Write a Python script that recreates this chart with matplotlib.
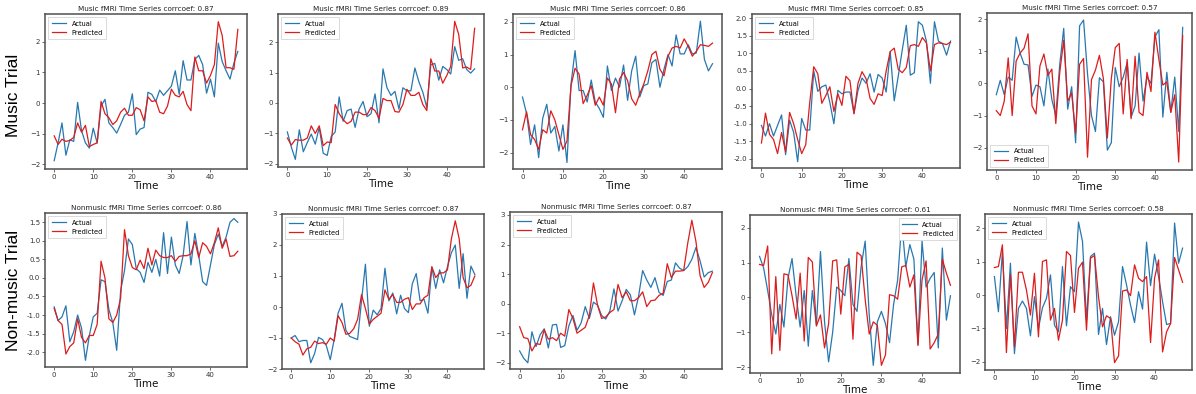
import numpy as np
import matplotlib
matplotlib.use("Agg")
import matplotlib.pyplot as plt
from matplotlib.ticker import FormatStrFormatter

# time axis (48 TRs)
time = np.arange(48)

# Music trials: actual vs predicted
music1_actual = [-1.88, -1.3, -0.65, -1.7, -1.2, -1.25, 0.02, -0.9, -1.3, -1.47, -0.82, -1.3,
                 -0.1, 0.12, -0.65, -0.8, -0.98, -0.7, -0.4, -0.3, 0.3, -1.03, -0.85, -0.8,
                 0.35, 0.28, 0.05, 0.42, 0.25, 0.4, 0.55, 1.05, 0.28, 1.38, 0.75, 0.75,
                 1.42, 1.55, 1.25, 0.32, 0.78, 0.2, 1.95, 1.35, 1.05, 0.78, 1.3, 1.68]
music1_pred = [-1.07, -1.35, -1.18, -1.25, -1.22, -1.12, -0.65, -0.95, -0.73, -1.42, -1.35, -1.3,
               0.05, -0.35, -0.48, -0.7, -0.58, -0.3, -0.17, -0.4, -0.4, -0.15, -0.22, -0.58,
               0.2, 0.05, 0.08, -0.3, -0.35, -0.1, 0.45, 0.25, 0.2, 0.38, -0.05, -0.25,
               1.5, 1.05, 1.05, 0.65, 0.9, 1.25, 2.65, 2.2, 1.15, 1.15, 1.1, 2.4]

music2_actual = [-0.95, -1.45, -1.85, -0.88, -1.6, -1.3, -1.02, -1.35, -0.8, -1.65, -1.72, -1.1,
                 -0.95, 0.2, -0.6, -0.25, -0.2, -0.8, -0.2, 0.05, -0.45, -0.35, 0.3, -0.65,
                 1.12, 0.5, 0.25, 0.38, -0.2, 0.5, 0.4, 0.4, 1.15, 0.7, 0.35, -0.15,
                 1.25, 1.3, 0.75, 1.2, 1.1, 0.95, 1.85, 1.4, 1.45, 1.1, 0.98, 1.12]
music2_pred = [-1.15, -1.38, -1.2, -1.22, -1.22, -1.15, -0.75, -1.0, -0.75, -1.4, -1.28, -1.3,
               -0.05, -0.35, -0.55, -0.68, -0.6, -0.3, -0.3, -0.38, -0.38, -0.15, -0.25, -0.5,
               0.15, 0.08, 0.08, -0.28, -0.3, -0.05, 0.45, 0.25, 0.25, 0.35, -0.05, -0.25,
               1.45, 1.05, 1.05, 0.65, 0.9, 1.2, 2.68, 2.25, 1.15, 1.18, 1.1, 2.45]

music3_actual = [-0.3, -0.8, -1.75, -1.15, -2.15, -0.95, -0.52, -1.4, -1.2, -1.95, -1.15, -2.3,
                 0.1, 1.12, -0.1, -0.1, -0.45, 0.22, -0.45, -0.65, -0.92, 0.65, -0.1, 0.28,
                 0.0, 0.68, -0.4, 0.5, 0.95, -0.3, 0.05, 0.1, 0.75, 0.85, 0.0, 0.55,
                 1.0, 0.65, 1.6, 1.02, 1.02, 1.3, 1.02, 1.05, 2.02, 0.85, 0.5, 0.72]
music3_pred = [-1.3, -0.75, -1.45, -1.6, -1.9, -1.3, -1.4, -0.72, -1.0, -1.45, -1.9, -1.65,
               0.05, 0.58, 0.4, -0.5, -0.25, 0.05, -0.55, -0.3, -0.55, 0.28, 0.1, -0.78,
               0.25, 0.45, 0.2, -0.35, -0.55, -0.2, 0.1, 0.5, 1.0, 1.1, 0.55, 0.35,
               0.95, 1.2, 1.25, 1.2, 1.48, 1.25, 0.95, 1.1, 1.3, 1.28, 1.25, 1.35]

music4_actual = [-1.05, -1.35, -1.0, -1.35, -1.05, -0.75, -1.88, -0.9, -1.25, -2.08, -0.85, -1.18,
                 -1.18, 0.5, -0.08, 0.05, 0.1, -0.4, -1.0, -0.05, -0.15, -0.1, -0.1, -0.7,
                 -0.05, 0.3, 0.15, 0.42, -0.1, 0.4, 0.3, -0.1, 1.05, -0.35, 0.35, 1.1,
                 1.8, 0.38, 0.45, 1.9, 1.8, 1.35, 0.15, 1.9, 1.35, 1.28, 0.95, 1.35]
music4_pred = [-1.55, -0.7, -1.3, -1.45, -1.85, -1.25, -1.8, -0.68, -1.0, -1.45, -1.85, -1.6,
               -0.4, 0.62, 0.42, -0.42, -0.2, 0.05, -0.65, -0.15, -0.48, 0.35, 0.22, -0.72,
               0.15, 0.48, 0.28, -0.28, -0.45, -0.15, -0.2, 0.5, 1.05, 1.15, 0.55, 0.45,
               0.6, 1.22, 1.25, 1.2, 1.45, 1.3, 0.5, 1.25, 1.3, 1.28, 1.25, 1.32]

music5_actual = [-0.35, 0.1, -0.35, 0.2, 0.1, 1.45, 0.95, 0.6, 0.58, -0.4, -0.05, -0.1,
                 -0.7, 0.45, -0.5, -1.0, 0.6, 1.72, -0.8, -0.1, -1.85, 1.8, 1.98, 0.3,
                 -1.0, -1.5, 0.18, 0.05, -2.08, -1.85, 0.5, -0.1, 0.2, 0.65, -1.05, -0.7,
                 0.95, -0.55, 0.2, 0.0, 1.45, 1.68, -1.05, 0.35, -0.9, 0.2, -1.5, 1.75]
music5_pred = [-0.85, -1.0, -0.55, 0.8, -1.0, 0.7, 0.95, 1.1, 1.55, -0.7, -0.95, 0.55,
               0.92, 0.25, 0.45, -1.25, 0.35, 1.35, -0.55, -0.3, -1.55, 0.6, 0.78, -2.3,
               0.12, 0.42, 0.88, 0.15, -1.7, 0.15, 1.12, 1.25, -0.95, 0.75, -1.1, 0.85,
               -0.9, -1.0, 0.35, -0.25, 1.6, 0.75, -0.05, 0.05, -0.9, -0.35, -2.45, 1.5]

# Non-music trials: actual vs predicted
nonmusic1_actual = [-0.78, -1.15, -1.05, -0.75, -1.72, -1.45, -1.0, -1.35, -2.22, -1.55, -1.05, -0.95,
                    -0.05, -0.1, -0.85, -1.2, -1.95, -0.35, 0.2, 1.05, 0.9, 0.25, 0.15, -0.12,
                    0.42, 0.15, 0.5, 0.05, 1.22, 0.12, 1.1, 0.35, 0.12, 0.6, 1.52, 0.35,
                    1.2, 0.6, -0.1, -0.2, 0.35, 0.9, 1.18, 0.85, 1.1, 1.5, 1.6, 1.5]
nonmusic1_pred = [-0.82, -1.15, -1.25, -2.05, -1.85, -1.75, -1.1, -1.6, -1.75, -1.55, -1.55, -1.25,
                  0.45, 0.0, -1.1, -1.2, -1.0, -0.55, 1.3, 0.6, 0.28, 0.22, 0.48, 0.25,
                  0.8, 0.35, 0.75, 0.6, 0.55, 0.55, 0.6, 0.45, 0.58, 0.6, 0.6, 0.65,
                  1.0, 0.55, 0.95, 0.85, 0.65, 0.95, 1.35, 0.8, 1.05, 0.58, 0.6, 0.72]

nonmusic2_actual = [-1.0, -0.92, -1.12, -1.08, -1.08, -1.8, -1.5, -0.98, -1.05, -1.25, -1.7, -1.05,
                    -0.2, 0.12, -0.75, -0.95, -1.0, -1.05, 0.2, 1.38, -0.62, -0.1, -0.25, -0.05,
                    1.25, 0.2, 0.45, -0.22, 0.38, -0.05, -0.18, 0.75, 1.08, 0.2, 0.25, -0.2,
                    1.28, 0.6, 1.2, 0.78, 1.3, 1.75, 2.0, 0.6, 1.72, 0.28, 1.32, 1.05]
nonmusic2_pred = [-1.0, -1.12, -1.2, -1.55, -1.35, -1.3, -1.1, -1.18, -1.15, -1.2, -1.0, -1.1,
                  -0.28, -0.5, -0.88, -0.85, -0.7, -0.4, 0.4, -0.05, -0.55, -0.4, -0.3, -0.2,
                  0.55, 0.25, 0.4, 0.15, 0.15, 0.25, 0.3, -0.08, 0.1, 0.1, 0.3, 0.38,
                  1.3, 0.95, 1.1, 1.1, 1.2, 2.2, 2.78, 2.2, 0.95, 0.62, 0.7, 1.0]

nonmusic3_actual = [-1.6, -1.85, -2.0, -0.95, -1.45, -1.05, -0.85, -1.5, -0.72, -0.7, -1.48, -1.42,
                    -0.75, -0.4, -0.9, -0.65, -0.1, -0.5, 0.05, -0.05, -0.4, -0.52, -0.25, 0.5,
                    -0.25, 0.1, 0.48, 0.3, -0.38, 0.25, 1.12, 0.8, 0.55, 0.88, 0.38, 0.28,
                    0.75, 0.8, 1.38, 1.2, 1.12, 1.25, 1.5, 1.9, 1.45, 0.9, 1.05, 1.1]
nonmusic3_pred = [-0.78, -1.15, -1.18, -1.6, -1.35, -1.38, -0.88, -1.2, -1.15, -1.25, -1.0, -1.1,
                  -0.2, -0.5, -1.0, -0.9, -0.8, -0.4, 0.7, -0.05, -0.5, -0.45, -0.3, -0.2,
                  0.65, 0.2, 0.4, 0.1, 0.1, 0.2, 0.4, -0.1, 0.1, 0.12, 0.28, 0.35,
                  1.35, 0.88, 1.1, 1.1, 1.12, 2.05, 2.82, 2.1, 0.95, 0.55, 0.72, 1.05]

nonmusic4_actual = [1.18, 0.85, 0.2, -0.5, -1.05, -0.2, -0.85, 0.55, 1.12, 0.05, -0.85, 0.2,
                    -1.4, 0.2, -0.8, 1.32, -0.7, -1.85, -1.0, 0.3, 0.2, 0.05, 1.12, -0.2,
                    -0.4, 0.88, 1.62, -0.5, -1.95, -0.7, -0.4, -0.75, -1.3, -0.2, 0.5, 2.15,
                    0.88, 1.52, 1.1, -1.35, 1.62, 0.3, 0.55, 0.72, -1.45, 1.42, -0.65, 0.05]
nonmusic4_pred = [0.95, 0.92, 1.48, -1.62, 0.6, -1.52, 0.68, 0.65, 0.05, -0.62, 0.7, -1.25,
                  1.15, 1.02, -0.82, -0.5, -1.45, -0.75, 1.05, 1.08, -0.48, 0.88, 0.95, -1.2,
                  1.3, 1.2, -0.05, -1.05, -0.7, -0.8, -1.95, -1.65, 0.08, 0.05, -0.05, 0.88,
                  0.92, 0.3, 0.65, -1.38, 0.5, 1.05, -1.48, -1.3, -1.05, 1.1, 0.7, 0.35]

nonmusic5_actual = [0.55, -0.5, 1.3, -1.0, 0.95, -1.75, -0.4, -0.18, -0.4, -1.22, -0.05, -1.0,
                    -0.38, -0.1, 0.6, -0.9, -1.1, 0.85, -0.92, 0.25, 0.1, 2.18, 1.6, -0.75,
                    1.15, 1.25, -1.18, -0.4, -1.48, -0.65, -1.2, -0.8, 0.85, 0.3, -0.3, -0.82,
                    0.1, -0.42, 1.58, 0.28, 1.22, 0.55, -0.2, -0.88, -0.85, 2.15, 0.95, 1.4]
nonmusic5_pred = [0.82, 0.85, 1.5, -1.72, 0.62, -1.55, 0.68, 0.68, 0.15, -0.6, 0.65, -1.25,
                  1.0, 1.05, -0.75, -0.4, -1.35, -0.75, 1.3, 1.18, -0.52, 0.8, 0.98, -1.05,
                  1.1, 1.18, -0.05, -0.95, -0.62, -0.7, -2.02, -1.82, 0.12, 0.15, -0.02, 0.9,
                  0.5, 0.4, 0.55, -1.42, 0.5, 1.05, -1.7, -1.1, -0.85, 1.12, 0.75, 0.38]

titles = ["Music fMRI Time Series corrcoef: 0.87", "Music fMRI Time Series corrcoef: 0.89",
          "Music fMRI Time Series corrcoef: 0.86", "Music fMRI Time Series corrcoef: 0.85",
          "Music fMRI Time Series corrcoef: 0.57",
          "Nonmusic fMRI Time Series corrcoef: 0.86", "Nonmusic fMRI Time Series corrcoef: 0.87",
          "Nonmusic fMRI Time Series corrcoef: 0.87", "Nonmusic fMRI Time Series corrcoef: 0.61",
          "Nonmusic fMRI Time Series corrcoef: 0.58"]

actual_series = [music1_actual, music2_actual, music3_actual, music4_actual, music5_actual,
                 nonmusic1_actual, nonmusic2_actual, nonmusic3_actual, nonmusic4_actual, nonmusic5_actual]
pred_series = [music1_pred, music2_pred, music3_pred, music4_pred, music5_pred,
               nonmusic1_pred, nonmusic2_pred, nonmusic3_pred, nonmusic4_pred, nonmusic5_pred]

# layout: pixel boxes (left, top, right, bottom) of each axes in the 1196x394 canvas
W, H = 1196, 394
boxes = [(45, 14, 247, 169), (278, 14, 484, 167), (513, 14, 722, 169), (752, 14, 960, 168),
         (987, 13, 1192, 170),
         (45, 213, 247, 367), (282, 214, 484, 369), (510, 212, 722, 369), (750, 215, 960, 373),
         (985, 214, 1192, 370)]
ylims = [(-2.15, 2.9), (-2.1, 2.92), (-2.5, 2.24), (-2.26, 2.12), (-2.7, 2.2),
         (-2.4, 1.75), (-2.0, 3.0), (-2.21, 3.1), (-2.17, 2.37), (-2.24, 2.42)]
half = np.arange(-2.0, 2.01, 0.5)
yticks = [[-2, -1, 0, 1, 2], [-2, -1, 0, 1, 2], [-2, -1, 0, 1, 2], half, [-2, -1, 0, 1, 2],
          np.arange(-2.0, 1.51, 0.5), [-2, -1, 0, 1, 2, 3], [-2, -1, 0, 1, 2, 3],
          [-2, -1, 0, 1, 2], [-2, -1, 0, 1, 2]]
legend_locs = ["upper left"] * 4 + ["lower left"] + ["upper left"] * 3 + ["upper right", "upper left"]

BLUE = "#2878b0"
RED = "#dd1c1c"

fig = plt.figure(figsize=(W / 100, H / 100), dpi=100)

for i in range(10):
    l, t, r, b = boxes[i]
    ax = fig.add_axes([l / W, 1 - b / H, (r - l) / W, (b - t) / H])
    ax.plot(time, actual_series[i], color=BLUE, lw=0.9, label="Actual")
    ax.plot(time, pred_series[i], color=RED, lw=0.9, label="Predicted")
    ax.set_ylim(*ylims[i])
    ax.set_yticks(yticks[i])
    if i in (3, 5):
        ax.yaxis.set_major_formatter(FormatStrFormatter("%.1f"))
    ax.set_xticks([0, 10, 20, 30, 40])
    ax.set_title(titles[i], fontsize=5.2, color="#222222", pad=2.5)
    ax.set_xlabel("Time", fontsize=7.5, labelpad=1, color="#111111")
    ax.tick_params(labelsize=5, length=2, width=0.5, pad=1.5, colors="#333333")
    for sp in ax.spines.values():
        sp.set_color("#505050")
        sp.set_linewidth(1.1)
    leg = ax.legend(loc=legend_locs[i], fontsize=4.8, handlelength=2.2, borderpad=0.5,
                    labelspacing=0.45, fancybox=False, framealpha=1)
    leg.get_frame().set_edgecolor("#cccccc")
    leg.get_frame().set_linewidth(0.5)

# row labels
fig.text(14 / W, 1 - 95 / H, "Music Trial", rotation=90, ha="center", va="center",
         fontsize=12.5, family="Liberation Sans")
fig.text(14 / W, 1 - 290 / H, "Non-music Trial", rotation=90, ha="center", va="center",
         fontsize=12.5, family="Liberation Sans")

fig.savefig("out.png", dpi=100)
